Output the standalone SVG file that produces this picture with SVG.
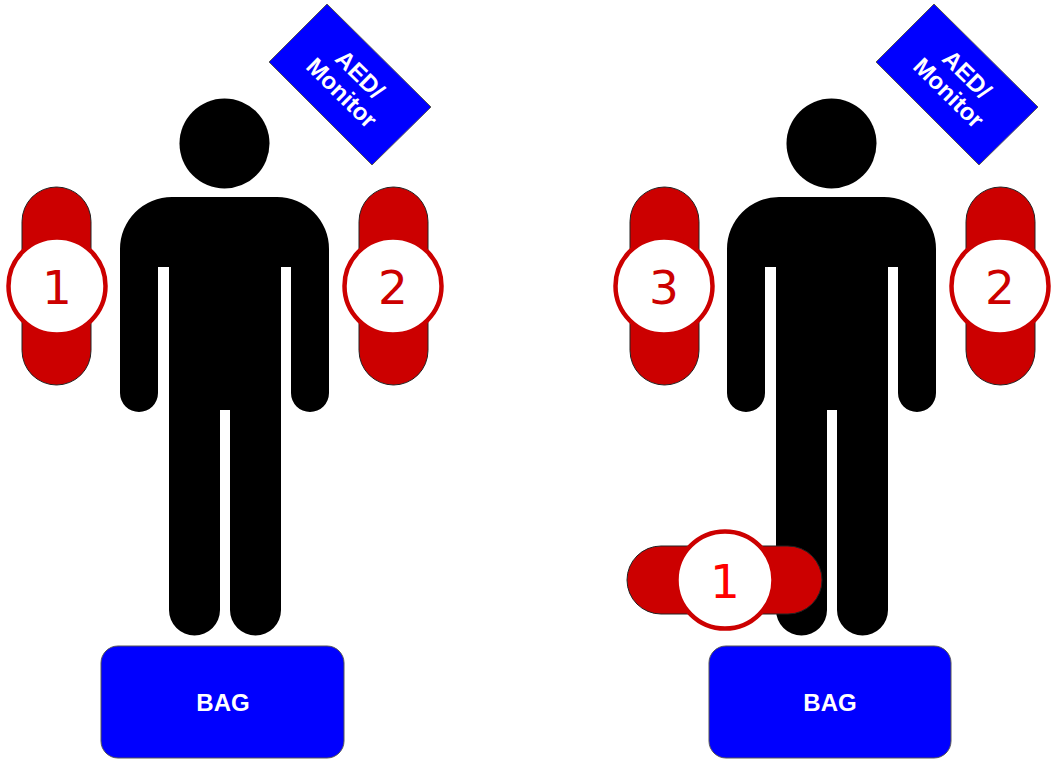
<svg xmlns="http://www.w3.org/2000/svg" width="1056" height="761" viewBox="0 0 1056 761">
<style>
.pad{fill:#c00;stroke:#222;stroke-width:1}
.disc{fill:#fff;stroke:#c00;stroke-width:4.500}
.num{font-family:"DejaVu Sans",sans-serif;font-size:47px;fill:#c00;text-anchor:middle}
.box{fill:#00f;stroke:#555;stroke-width:1}
.lab{font-family:"Liberation Sans",Arial,sans-serif;font-weight:bold;font-size:24px;fill:#fff;text-anchor:middle}
</style>
<defs>
<g id="person">
<circle cx="224.500" cy="143.500" r="45" fill="#000"/>
<path fill="#000" d="M172 197H277A52 52 0 0 1 329 249V393A19 19 0 0 1 291 393V267H281V610A25.500 25.500 0 0 1 230 610V410H220V610A25.500 25.500 0 0 1 169 610V267H158V393A19 19 0 0 1 120 393V249A52 52 0 0 1 172 197Z"/>
</g>
</defs>
<g id="connectors"/>
<g id="person-left"><use href="#person"/></g>
<g id="person-right"><use href="#person" x="607"/></g>
<g id="aed-left"><polygon class="box" points="327,4 431,107 372,165 269,62"/>
<text class="lab" transform="translate(350 84.500) rotate(44.700)"><tspan x="0" y="-6">AED/</tspan><tspan x="0" y="20">Monitor</tspan></text></g>
<g id="aed-right"><polygon class="box" points="934,4 1038,107 979,165 876,62"/>
<text class="lab" transform="translate(957 84.500) rotate(44.700)"><tspan x="0" y="-6">AED/</tspan><tspan x="0" y="20">Monitor</tspan></text></g>
<g id="pad-1-left"><rect class="pad" x="22" y="187" width="69" height="198" rx="34.500"/><circle class="disc" cx="57" cy="286" r="48.500"/><text class="num" x="57" y="304">1</text></g>
<g id="pad-2-left"><rect class="pad" x="359" y="187" width="69" height="198" rx="34.500"/><circle class="disc" cx="393" cy="286" r="48.500"/><text class="num" x="393" y="304">2</text></g>
<g id="pad-3-right"><rect class="pad" x="630" y="187" width="69" height="198" rx="34.500"/><circle class="disc" cx="664" cy="286" r="48.500"/><text class="num" x="664" y="304">3</text></g>
<g id="pad-2-right"><rect class="pad" x="966" y="187" width="69" height="198" rx="34.500"/><circle class="disc" cx="1000" cy="286" r="48.500"/><text class="num" x="1000" y="304">2</text></g>
<g id="pad-1-right"><rect class="pad" x="627" y="546" width="195" height="68" rx="34"/><circle class="disc" cx="725" cy="580" r="48.500"/><text class="num" x="725" y="598" style="fill:#f00">1</text></g>
<g id="bag-left"><rect class="box" x="101" y="646" width="243" height="112" rx="17"/><text class="lab" x="223" y="711">BAG</text></g>
<g id="bag-right"><rect class="box" x="709" y="646" width="242" height="112" rx="17"/><text class="lab" x="830" y="711">BAG</text></g>
</svg>
